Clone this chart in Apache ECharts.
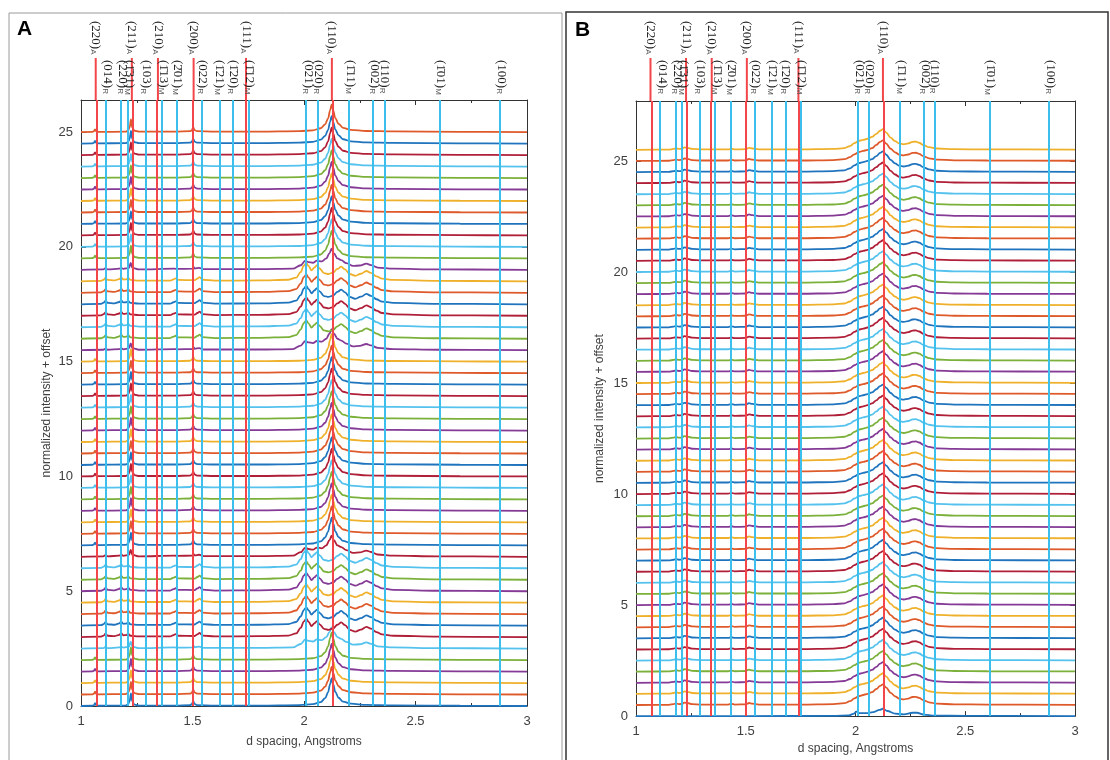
<!DOCTYPE html>
<html><head><meta charset="utf-8">
<script src="https://cdn.jsdelivr.net/npm/echarts@6/dist/echarts.min.js"></script>
<style>html,body{margin:0;padding:0;background:#fff}#c{width:1110px;height:760px}</style>
</head><body><div id="c"></div>
<script>
// ---------- data ----------
const xTickLabels = [1, 1.5, 2, 2.5, 3];
const yTickLabels = [0, 5, 10, 15, 20, 25];

// reflection positions (d spacing, Angstroms)
const redLinesD   = [1.066, 1.228, 1.345, 1.505, 1.74, 2.125];
const redLabels   = ['(220)', '(211)', '(210)', '(200)', '(111)', '(110)'];
const redSubs     = ['A', 'A', 'A', 'A', 'A', 'A'];
const blueLinesD  = [1.115, 1.182, 1.212, 1.287, 1.365, 1.43, 1.541, 1.618, 1.678, 1.75, 2.014, 2.061, 2.204, 2.312, 2.357, 2.608, 2.883];
const blueLabels  = ['(014)', '(220)', '(1\u030431)', '(103)', '(1\u030413)', '(2\u030401)', '(022)', '(1\u030421)', '(1\u030420)', '(1\u030412)', '(021)', '(020)', '(1\u030411)', '(002)', '(110)', '(1\u030401)', '(100)'];
const blueSubs    = ['R', 'R', 'M', 'R', 'M', 'M', 'R', 'M', 'R', 'M', 'R', 'R', 'M', 'R', 'R', 'M', 'R'];

// panel A profiles: [d, normalized intensity]
const profileAustA = [[1.00,0],[1.05,0.01],[1.057,0.03],[1.063,0.12],[1.069,0.03],[1.08,0.01],[1.20,0.02],[1.21,0.06],[1.218,0.2],[1.224,0.55],[1.23,0.2],[1.24,0.06],[1.26,0.02],[1.42,0.02],[1.49,0.04],[1.498,0.09],[1.503,0.22],[1.509,0.09],[1.52,0.04],[1.60,0.02],[1.80,0.02],[1.98,0.04],[2.04,0.08],[2.075,0.17],[2.095,0.34],[2.108,0.6],[2.117,0.95],[2.124,1.2],[2.131,0.95],[2.14,0.62],[2.155,0.36],[2.175,0.19],[2.21,0.1],[2.28,0.05],[2.40,0.03],[2.70,0.01],[3.00,0]];
const profileMixA = [[1.00,0],[1.09,0.02],[1.102,0.07],[1.11,0.15],[1.12,0.06],[1.15,0.04],[1.172,0.1],[1.18,0.17],[1.19,0.08],[1.203,0.09],[1.212,0.14],[1.222,0.06],[1.26,0.03],[1.40,0.03],[1.415,0.09],[1.425,0.13],[1.437,0.06],[1.51,0.05],[1.522,0.12],[1.532,0.18],[1.545,0.07],[1.60,0.03],[1.80,0.04],[1.93,0.07],[1.965,0.16],[1.985,0.4],[1.999,0.68],[2.01,0.8],[2.021,0.66],[2.034,0.48],[2.046,0.6],[2.058,0.7],[2.07,0.56],[2.09,0.36],[2.11,0.32],[2.13,0.38],[2.15,0.54],[2.167,0.64],[2.184,0.52],[2.205,0.32],[2.23,0.24],[2.255,0.33],[2.28,0.45],[2.30,0.37],[2.325,0.22],[2.35,0.12],[2.40,0.06],[2.60,0.02],[3.00,0]];
const profileTransA = [[1.00,0],[1.10,0.02],[1.11,0.07],[1.12,0.02],[1.172,0.05],[1.18,0.09],[1.19,0.04],[1.215,0.08],[1.223,0.3],[1.23,0.09],[1.26,0.02],[1.42,0.05],[1.43,0.04],[1.50,0.05],[1.504,0.13],[1.51,0.06],[1.53,0.09],[1.55,0.03],[1.80,0.03],[1.95,0.05],[1.985,0.2],[2.006,0.4],[2.02,0.34],[2.04,0.31],[2.058,0.4],[2.08,0.37],[2.10,0.5],[2.114,0.72],[2.124,0.92],[2.134,0.72],[2.15,0.5],[2.167,0.42],[2.19,0.29],[2.22,0.17],[2.25,0.19],[2.28,0.27],[2.30,0.21],[2.33,0.1],[2.40,0.05],[2.60,0.02],[3.00,0]];

// panel B profiles
const profileB1 = [[1.00,0],[1.15,0.01],[1.172,0.04],[1.182,0.07],[1.195,0.04],[1.21,0.05],[1.22,0.11],[1.235,0.09],[1.255,0.04],[1.30,0.02],[1.42,0.02],[1.435,0.05],[1.45,0.02],[1.50,0.03],[1.515,0.09],[1.53,0.06],[1.56,0.02],[1.75,0.02],[1.90,0.04],[1.95,0.08],[1.975,0.17],[1.995,0.3],[2.015,0.4],[2.035,0.45],[2.055,0.5],[2.075,0.58],[2.095,0.72],[2.112,0.86],[2.125,0.93],[2.14,0.78],[2.16,0.55],[2.18,0.39],[2.20,0.28],[2.22,0.25],[2.24,0.29],[2.26,0.36],[2.275,0.37],[2.29,0.32],[2.31,0.21],[2.335,0.12],[2.37,0.06],[2.45,0.03],[2.60,0.02],[3.00,0.01]];
const profileB0 = [[1.00,0],[1.50,0],[1.90,0.01],[1.97,0.03],[1.99,0.1],[2.005,0.2],[2.02,0.13],[2.05,0.13],[2.08,0.18],[2.11,0.28],[2.125,0.33],[2.145,0.23],[2.18,0.11],[2.22,0.08],[2.26,0.15],[2.28,0.15],[2.31,0.07],[2.36,0.02],[2.50,0.01],[3.00,0]];

// trace offsets and which profile each trace follows
const offsetsA = [0,0.5,1,1.5,2,2.5,3,3.5,4,4.5,5,5.5,6,6.5,7,7.5,8,8.5,9,9.5,10,10.5,11,11.5,12,12.5,13,13.5,14,14.5,15,15.5,16,16.5,17,17.5,18,18.5,19,19.5,20,20.5,21,21.5,22,22.5,23,23.5,24,24.5,25];
const phasesA  = ['A','A','A','A','A','T','M','M','M','M','M','M','M','T','A','A','A','A','A','A','A','A','A','A','A','A','A','A','A','A','A','T','M','M','M','M','M','M','T','A','A','A','A','A','A','A','A','A','A','A','A'];
const offsetsB = [0,0.5,1,1.5,2,2.5,3,3.5,4,4.5,5,5.5,6,6.5,7,7.5,8,8.5,9,9.5,10,10.5,11,11.5,12,12.5,13,13.5,14,14.5,15,15.5,16,16.5,17,17.5,18,18.5,19,19.5,20,20.5,21,21.5,22,22.5,23,23.5,24,24.5,25,25.5];
const phasesB  = ['B0','B1','B1','B1','B1','B1','B1','B1','B1','B1','B1','B1','B1','B1','B1','B1','B1','B1','B1','B1','B1','B1','B1','B1','B1','B1','B1','B1','B1','B1','B1','B1','B1','B1','B1','B1','B1','B1','B1','B1','B1','B1','B1','B1','B1','B1','B1','B1','B1','B1','B1','B1'];

// ---------- styles ----------
const palette = ['#1f74bd', '#de5a2a', '#efb12c', '#853a95', '#7bb03a', '#55c2ee', '#b01f38'];
const redColor = '#f2464a', blueColor = '#3dbfee';
const axisColor = '#333333', textColor = '#404040';
const fontSans = '"Liberation Sans", Arial, sans-serif';

const profilesA = {A: profileAustA, M: profileMixA, T: profileTransA};
const profilesB = {B0: profileB0, B1: profileB1};

const chart = echarts.init(document.getElementById('c'));

function xAxis(gi, top) {
  return {
    type: 'value', gridIndex: gi, position: top ? 'top' : 'bottom', min: 1, max: 3, interval: 0.5,
    axisLine: {show: true, onZero: false, lineStyle: {color: axisColor, width: 1}},
    axisTick: {show: true, inside: true, length: 5, lineStyle: {color: axisColor}},
    minorTick: {show: true, splitNumber: 2, length: 3, lineStyle: {color: axisColor}},
    splitLine: {show: false},
    axisLabel: top ? {show: false} : {show: true, color: textColor, fontSize: 13, fontFamily: fontSans, margin: 9,
      formatter: v => xTickLabels.includes(v) ? String(v) : ''},
    name: top ? '' : 'd spacing, Angstroms', nameLocation: 'middle', nameGap: gi === 0 ? 30 : 25,
    nameTextStyle: {color: textColor, fontSize: 12, fontFamily: fontSans}
  };
}
function yAxis(gi, right, max) {
  return {
    type: 'value', gridIndex: gi, position: right ? 'right' : 'left', min: 0, max: max, interval: 5,
    axisLine: {show: true, onZero: false, lineStyle: {color: axisColor, width: 1}},
    axisTick: {show: true, inside: true, length: 5, lineStyle: {color: axisColor}},
    splitLine: {show: false},
    axisLabel: right ? {show: false} : {show: true, color: textColor, fontSize: 13, fontFamily: fontSans, margin: 8,
      showMaxLabel: false, formatter: v => yTickLabels.includes(v) ? String(v) : ''},
    name: right ? '' : 'normalized intensity + offset', nameLocation: 'middle', nameGap: gi === 0 ? 28 : 30,
    nameTextStyle: {color: textColor, fontSize: 12, fontFamily: fontSans}
  };
}

function traces(offsets, phases, profiles, gi) {
  return offsets.map((off, i) => ({
    type: 'line', xAxisIndex: gi * 2, yAxisIndex: gi * 2,
    data: profiles[phases[i]].map(p => [p[0], p[1] + off]),
    symbol: 'none', showSymbol: false, smooth: 0.35, smoothMonotone: 'x',
    lineStyle: {width: 1.8, color: palette[i % 7]}, silent: true, z: 2
  }));
}
function refLines(gi) {
  const items = blueLinesD.map(d => ({xAxis: d, lineStyle: {color: blueColor, width: 2, type: 'solid'}}))
    .concat(redLinesD.map(d => ({xAxis: d, lineStyle: {color: redColor, width: 2, type: 'solid'}})));
  return {
    type: 'line', xAxisIndex: gi * 2, yAxisIndex: gi * 2, data: [], silent: true, z: 5,
    markLine: {symbol: ['none', 'none'], silent: true, animation: false, label: {show: false}, data: items}
  };
}

const option = {
  animation: false,
  backgroundColor: '#ffffff',
  grid: [
    {left: 81, top: 100, width: 446, height: 606},
    {left: 636, top: 101, width: 439, height: 615.5}
  ],
  xAxis: [xAxis(0, false), xAxis(0, true), xAxis(1, false), xAxis(1, true)],
  yAxis: [yAxis(0, false, 26.4), yAxis(0, true, 26.4), yAxis(1, false, 27.7), yAxis(1, true, 27.7)],
  series: [].concat(traces(offsetsA, phasesA, profilesA, 0), [refLines(0)],
                    traces(offsetsB, phasesB, profilesB, 1), [refLines(1)])
};
chart.setOption(option);

// ---------- labels and frames placed through the axis scales ----------
function labelText(txt, sub, x, y) {
  return {
    type: 'text', x: x, y: y, rotation: -Math.PI / 2, silent: true, z: 20,
    style: {
      text: '{t|' + txt + '}{s|' + sub + '}',
      textAlign: 'left', textVerticalAlign: 'middle', align: 'left', verticalAlign: 'middle',
      rich: {
        t: {fontSize: 13, fontFamily: '"Liberation Serif", serif', fill: '#222', color: '#222'},
        s: {fontSize: 8, fontFamily: '"Liberation Sans", sans-serif', fill: '#555', color: '#555', verticalAlign: 'bottom'}
      }
    }
  };
}
const graphics = [
  {type: 'rect', shape: {x: 9, y: 13, width: 553, height: 752}, style: {fill: 'none', stroke: '#9a9a9a', lineWidth: 1}, silent: true},
  {type: 'rect', shape: {x: 566, y: 12, width: 542, height: 752}, style: {fill: 'none', stroke: '#333', lineWidth: 1.5}, silent: true},
  {type: 'text', x: 17, y: 19, style: {text: 'A', font: 'bold 21px "Liberation Sans", Arial', fill: '#000'}, silent: true},
  {type: 'text', x: 575, y: 20, style: {text: 'B', font: 'bold 21px "Liberation Sans", Arial', fill: '#000'}, silent: true}
];
[0, 1].forEach(gi => {
  const gridTop = gi === 0 ? 100 : 101;
  redLinesD.forEach((d, i) => {
    const x = chart.convertToPixel({xAxisIndex: gi * 2}, d);
    graphics.push({type: 'line', shape: {x1: x, y1: 58, x2: x, y2: gridTop}, style: {stroke: redColor, lineWidth: 2}, silent: true, z: 15});
    graphics.push(labelText(redLabels[i], redSubs[i], x, 21));
  });
  blueLinesD.forEach((d, i) => {
    const x = chart.convertToPixel({xAxisIndex: gi * 2}, d);
    graphics.push(labelText(blueLabels[i], blueSubs[i], x + 1, 60));
  });
});
chart.setOption({graphic: graphics});
</script></body></html>
